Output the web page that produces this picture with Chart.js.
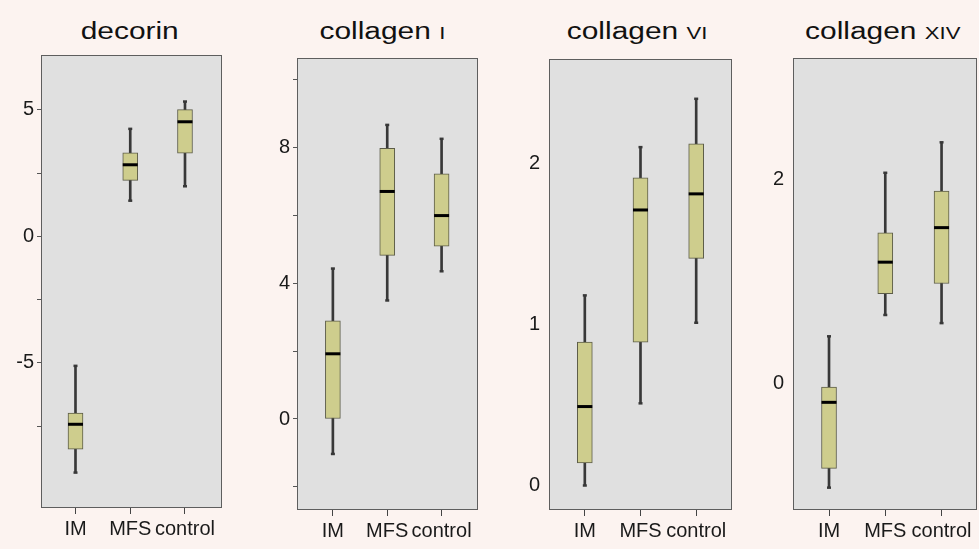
<!DOCTYPE html>
<html><head><meta charset="utf-8">
<script src="https://cdn.jsdelivr.net/npm/chart.js@4"></script>
<style>
html,body{margin:0;padding:0;background:#fcf3f0;width:979px;height:549px;overflow:hidden;position:relative;}
canvas{position:absolute;top:0;}
.title{position:absolute;top:20px;width:300px;text-align:center;font-family:"Liberation Sans",Arial,sans-serif;font-size:23px;line-height:23px;color:#111;white-space:nowrap;}
.title .inner{display:inline-block;transform:scaleX(1.3);transform-origin:center;}
.title .sc{font-size:17px;}
</style></head><body>
<div class="title" id="t1"><span class="inner">decorin</span></div>
<div class="title" id="t2"><span class="inner">collagen <span class="sc">I</span></span></div>
<div class="title" id="t3"><span class="inner">collagen <span class="sc">VI</span></span></div>
<div class="title" id="t4"><span class="inner">collagen <span class="sc">XIV</span></span></div>
<canvas id="c1"></canvas><canvas id="c2"></canvas><canvas id="c3"></canvas><canvas id="c4"></canvas>
<script>
// ---- data ----
const categories = ['IM', 'MFS', 'control'];

const decorinMin    = [-9.34, 1.41, 1.98];
const decorinQ1     = [-8.41, 2.21, 3.29];
const decorinMedian = [-7.43, 2.83, 4.53];
const decorinQ3     = [-6.99, 3.30, 5.01];
const decorinMax    = [-5.12, 4.25, 5.33];
const decorinTicks  = [5, 2.5, 0, -2.5, -5, -7.5];
const decorinLabels = [5, 0, -5];

const col1Min    = [-1.03, 3.49, 4.35];
const col1Q1     = [0.00, 4.82, 5.09];
const col1Median = [1.92, 6.70, 5.99];
const col1Q3     = [2.89, 7.97, 7.22];
const col1Max    = [4.43, 8.66, 8.25];
const col1Ticks  = [10, 8, 6, 4, 2, 0, -2];
const col1Labels = [8, 4, 0];

const col6Min    = [0.00, 0.51, 1.01];
const col6Q1     = [0.14, 0.89, 1.41];
const col6Median = [0.49, 1.71, 1.81];
const col6Q3     = [0.89, 1.91, 2.12];
const col6Max    = [1.18, 2.10, 2.40];
const col6Ticks  = [2, 1, 0];
const col6Labels = [2, 1, 0];

const col14Min    = [-1.03, 0.67, 0.59];
const col14Q1     = [-0.84, 0.88, 0.98];
const col14Median = [-0.19, 1.19, 1.53];
const col14Q3     = [-0.04, 1.48, 1.89];
const col14Max    = [0.46, 2.07, 2.37];
const col14Ticks  = [2, 0];
const col14Labels = [2, 0];

// ---- layout / style ----
const H = 549;
const panels = [
  {id:'c1', title:'t1', titleX:130, rect:{l:41, r:222, t:55, b:508}, y:[-10.74, 7.17], x:[-0.63, 2.676], yTickMarks:true,
   ticks:decorinTicks, labels:decorinLabels, s:[decorinMin, decorinQ1, decorinMedian, decorinQ3, decorinMax]},
  {id:'c2', title:'t2', titleX:382.5, rect:{l:297, r:478, t:58, b:510}, y:[-2.68, 10.63], x:[-0.66, 2.67], yTickMarks:true,
   ticks:col1Ticks, labels:col1Labels, s:[col1Min, col1Q1, col1Median, col1Q3, col1Max]},
  {id:'c3', title:'t3', titleX:636.7, rect:{l:549, r:732, t:59, b:510}, y:[-0.152, 2.647], x:[-0.643, 2.643], yTickMarks:false,
   ticks:col6Ticks, labels:col6Labels, s:[col6Min, col6Q1, col6Median, col6Q3, col6Max]},
  {id:'c4', title:'t4', titleX:883, rect:{l:793, r:977, t:58, b:510}, y:[-1.25, 3.20], x:[-0.64, 2.63], yTickMarks:false,
   ticks:col14Ticks, labels:col14Labels, s:[col14Min, col14Q1, col14Median, col14Q3, col14Max]}
];

const BOX_FILL = '#cecd8d';
const BOX_BORDER = '#5c5c48';
const WHISKER = '#383838';
const PLOT_BG = '#e0e0e0';
const FRAME = '#5e5e5e';
const AXW = 40;

Chart.defaults.font.family = '"Liberation Sans", Arial, sans-serif';
Chart.defaults.color = '#222';

const framePlugin = {
  id: 'frame',
  beforeDraw(chart) {
    const {ctx, chartArea: a} = chart;
    ctx.save();
    ctx.fillStyle = PLOT_BG;
    ctx.fillRect(a.left, a.top, a.right - a.left, a.bottom - a.top);
    ctx.strokeStyle = FRAME;
    ctx.lineWidth = 1;
    ctx.strokeRect(a.left + 0.5, a.top + 0.5, a.right - a.left - 1, a.bottom - a.top - 1);
    ctx.restore();
  }
};

panels.forEach(p => {
  const [mn, q1, md, q3, mx] = p.s;
  const cv = document.getElementById(p.id);
  const left = p.rect.l - AXW;
  const width = p.rect.r - left + 3;
  cv.width = width; cv.height = H;
  cv.style.left = left + 'px';
  cv.style.width = width + 'px'; cv.style.height = H + 'px';
  const t = document.getElementById(p.title);
  t.style.left = (p.titleX - 150) + 'px';

  new Chart(cv, {
    type: 'bar',
    data: {
      datasets: [
        {type:'bar', data: categories.map((c,i)=>({x:i, y:[mn[i], mx[i]]})), backgroundColor: WHISKER,
         barThickness: 2, grouped: false, order: 3},
        {type:'bar', data: categories.map((c,i)=>({x:i, y:[q1[i], q3[i]]})), backgroundColor: BOX_FILL,
         borderColor: BOX_BORDER, borderWidth: 1, borderSkipped: false, barThickness: 15, grouped: false, order: 2},
        {type:'scatter', data: categories.map((c,i)=>({x:i, y:md[i]})), pointStyle:'line', pointRadius:7.5,
         pointHoverRadius:7.5, pointBorderWidth:3, pointBorderColor:'#000', order: 1},
        {type:'scatter', data: categories.flatMap((c,i)=>[{x:i, y:mn[i]},{x:i, y:mx[i]}]), pointStyle:'line', pointRadius:2,
         pointHoverRadius:2, pointBorderWidth:2.5, pointBorderColor:WHISKER, order: 1}
      ]
    },
    options: {
      responsive: false, animation: false, events: [],
      layout: {autoPadding: false, padding: {top: p.rect.t, right: 3, left: 0, bottom: 0}},
      plugins: {legend:{display:false}, tooltip:{enabled:false}, title:{display:false}},
      scales: {
        x: {
          type: 'linear', min: p.x[0], max: p.x[1], offset: false,
          afterBuildTicks: s => { s.ticks = categories.map((c,i)=>({value:i})); },
          afterFit: s => { s.height = H - p.rect.b; s.paddingLeft = 0; s.paddingRight = 0; s.paddingTop = 0; s.paddingBottom = 0; },
          grid: {drawOnChartArea:false, drawTicks:true, tickLength:6, color:'#444', offset:false},
          border: {display:false},
          ticks: {autoSkip:false, maxRotation:0, padding:3, font:{size:20}, color:'#1a1a1a',
                  callback: v => categories[v] !== undefined ? categories[v] : ''}
        },
        y: {
          type: 'linear', min: p.y[0], max: p.y[1],
          afterBuildTicks: s => { s.ticks = p.ticks.map(v=>({value:v})); },
          afterFit: s => { s.width = AXW; s.paddingLeft = 0; s.paddingRight = 0; s.paddingTop = 0; s.paddingBottom = 0; },
          grid: p.yTickMarks ? {drawOnChartArea:false, drawTicks:true, tickLength:4, color:'#555'} : {display:false, drawTicks:false},
          border: {display:false},
          ticks: {autoSkip:false, padding: p.yTickMarks ? 3 : 9, font:{size:20}, color:'#1a1a1a',
                  callback: v => p.labels.includes(v) ? String(v) : ''}
        }
      }
    },
    plugins: [framePlugin]
  });
});
</script>
</body></html>
